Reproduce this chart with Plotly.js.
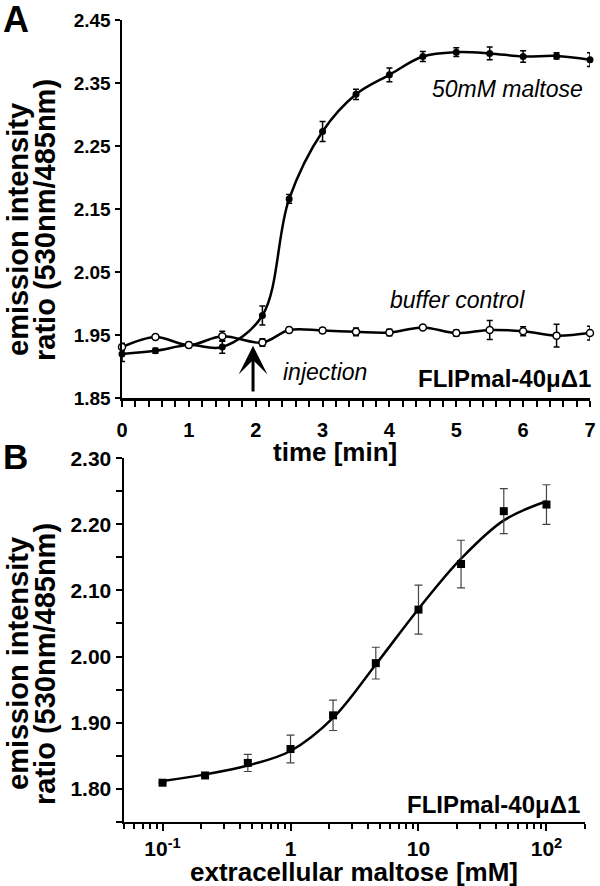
<!DOCTYPE html>
<html>
<head>
<meta charset="utf-8">
<script src="https://cdn.plot.ly/plotly-3.0.1.min.js"></script>
<style>html,body{margin:0;padding:0;background:#fff;}#chart{width:600px;height:886px;}</style>
</head>
<body>
<div id="chart"></div>
<script>
// Panel A data
const times = [0, 0.5, 1, 1.5, 2.1, 2.5, 3, 3.5, 4, 4.5, 5, 5.5, 6, 6.5, 7];
const maltose = [1.920, 1.925, 1.934, 1.931, 1.981, 2.166, 2.273, 2.332, 2.363, 2.392, 2.399, 2.397, 2.392, 2.393, 2.387];
const maltoseErr = [0.012, 0.004, 0.004, 0.010, 0.015, 0.007, 0.016, 0.008, 0.011, 0.008, 0.007, 0.010, 0.009, 0.005, 0.011];
const buffer = [1.931, 1.947, 1.934, 1.948, 1.938, 1.958, 1.957, 1.955, 1.954, 1.962, 1.953, 1.958, 1.956, 1.949, 1.953];
const bufferErr = [0.006, 0.003, 0.004, 0.008, 0.006, 0.004, 0.004, 0.006, 0.005, 0.003, 0.005, 0.015, 0.007, 0.018, 0.011];

// Panel B data
const conc = [0.1, 0.215, 0.464, 1, 2.15, 4.64, 10, 21.5, 46.4, 100];
const ratioB = [1.809, 1.820, 1.839, 1.860, 1.911, 1.990, 2.071, 2.140, 2.220, 2.230];
const ratioBErr = [0, 0, 0.013, 0.021, 0.023, 0.024, 0.037, 0.036, 0.034, 0.030];
const fitConc = [0.1, 0.215, 0.464, 1, 2.15, 4.64, 10, 21.5, 46.4, 100];
const fitRatio = [1.8115, 1.8216, 1.835, 1.857, 1.907, 1.988, 2.072, 2.148, 2.206, 2.235];

// Tick labels
const xTickValsB = [0.1, 1, 10, 100];
const xTickTextB = ['10<sup>-1</sup>', '1', '10', '10<sup>2</sup>'];
const xMinorValsB = [0.05,0.06,0.07,0.08,0.09,0.2,0.3,0.4,0.5,0.6,0.7,0.8,0.9,2,3,4,5,6,7,8,9,20,30,40,50,60,70,80,90,200];

const FF = 'Liberation Sans, Arial, sans-serif';
const W = 600, H = 886;
const px = v => v / W;
const py = v => 1 - v / H;

const traces = [
  {x: times, y: maltose, xaxis: 'x', yaxis: 'y', type: 'scatter', mode: 'lines+markers',
   line: {color: '#000', width: 2.5, shape: 'spline', smoothing: 1},
   marker: {symbol: 'circle', size: 7, color: '#000'},
   error_y: {type: 'data', array: maltoseErr, visible: true, color: '#000', thickness: 1.5, width: 3},
   cliponaxis: false, showlegend: false},
  {x: times, y: buffer, xaxis: 'x', yaxis: 'y', type: 'scatter', mode: 'lines+markers',
   line: {color: '#000', width: 2.5, shape: 'spline', smoothing: 1},
   marker: {symbol: 'circle', size: 7, color: '#fff', line: {color: '#000', width: 1.5}},
   error_y: {type: 'data', array: bufferErr, visible: true, color: '#000', thickness: 1.5, width: 3},
   cliponaxis: false, showlegend: false},
  {x: fitConc, y: fitRatio, xaxis: 'x2', yaxis: 'y2', type: 'scatter', mode: 'lines',
   line: {color: '#000', width: 2.5, shape: 'spline', smoothing: 1}, showlegend: false},
  {x: conc, y: ratioB, xaxis: 'x2', yaxis: 'y2', type: 'scatter', mode: 'markers',
   marker: {symbol: 'square', size: 8, color: '#000'},
   error_y: {type: 'data', array: ratioBErr, visible: true, color: '#444', thickness: 1.2, width: 4},
   cliponaxis: false, showlegend: false}
];

const axisCommon = {
  showline: true, linecolor: '#000', linewidth: 2.5, showgrid: false, zeroline: false,
  ticks: 'outside', tickcolor: '#000', tickwidth: 2
};

const layout = {
  width: W, height: H,
  margin: {l: 0, r: 0, t: 0, b: 0},
  paper_bgcolor: '#fff', plot_bgcolor: '#fff',
  showlegend: false,
  xaxis: Object.assign({}, axisCommon, {
    domain: [px(122), px(590)], anchor: 'y', range: [0, 7],
    tickmode: 'linear', tick0: 0, dtick: 1, ticklen: 6, ticklabelstandoff: 6,
    tickfont: {family: FF, size: 20, color: '#000', weight: 'bold'},
    minor: {ticks: 'outside', tick0: 0, dtick: 0.2, ticklen: 6, tickwidth: 2, tickcolor: '#000', showgrid: false}
  }),
  yaxis: Object.assign({}, axisCommon, {
    domain: [py(398), py(20)], anchor: 'x', range: [1.85, 2.45],
    tickmode: 'linear', tick0: 1.85, dtick: 0.1, ticklen: 5, tickformat: '.2f',
    tickfont: {family: FF, size: 19, color: '#000', weight: 'bold'}
  }),
  xaxis2: Object.assign({}, axisCommon, {
    domain: [px(124), px(585)], anchor: 'y2', type: 'log', range: [Math.log10(0.05), Math.log10(200)],
    tickmode: 'array', tickvals: xTickValsB, ticktext: xTickTextB, ticklen: 7,
    tickfont: {family: FF, size: 21, color: '#000', weight: 'bold'},
    minor: {ticks: 'outside', tickmode: 'array', tickvals: xMinorValsB, ticklen: 5, tickwidth: 2, tickcolor: '#000', showgrid: false}
  }),
  yaxis2: Object.assign({}, axisCommon, {
    domain: [py(821.7), py(458.3)], anchor: 'x2', range: [1.75, 2.30],
    tickmode: 'linear', tick0: 1.8, dtick: 0.1, ticklen: 6, tickformat: '.2f',
    tickfont: {family: FF, size: 21, color: '#000', weight: 'bold'},
    minor: {ticks: 'outside', tick0: 1.75, dtick: 0.05, ticklen: 6, tickwidth: 2, tickcolor: '#000', showgrid: false}
  }),
  annotations: [
    {text: 'A', xref: 'paper', yref: 'paper', x: px(15.5), y: py(19.5), xanchor: 'center', yanchor: 'middle', showarrow: false,
     font: {family: FF, size: 36, color: '#000', weight: 'bold'}},
    {text: 'B', xref: 'paper', yref: 'paper', x: px(15), y: py(456), xanchor: 'center', yanchor: 'middle', showarrow: false,
     font: {family: FF, size: 35, color: '#000', weight: 'bold'}},
    // y titles panel A
    {text: 'emission intensity', xref: 'paper', yref: 'paper', x: px(18), y: py(230), textangle: -90, xanchor: 'center', yanchor: 'middle', showarrow: false,
     font: {family: FF, size: 29, color: '#000', weight: 'bold'}},
    {text: 'ratio (530nm/485nm)', xref: 'paper', yref: 'paper', x: px(45), y: py(220), textangle: -90, xanchor: 'center', yanchor: 'middle', showarrow: false,
     font: {family: FF, size: 29, color: '#000', weight: 'bold'}},
    // y titles panel B
    {text: 'emission intensity', xref: 'paper', yref: 'paper', x: px(18), y: py(664), textangle: -90, xanchor: 'center', yanchor: 'middle', showarrow: false,
     font: {family: FF, size: 29, color: '#000', weight: 'bold'}},
    {text: 'ratio (530nm/485nm)', xref: 'paper', yref: 'paper', x: px(45), y: py(664), textangle: -90, xanchor: 'center', yanchor: 'middle', showarrow: false,
     font: {family: FF, size: 29, color: '#000', weight: 'bold'}},
    // x titles
    {text: 'time [min]', xref: 'paper', yref: 'paper', x: px(335), y: py(452), xanchor: 'center', yanchor: 'middle', showarrow: false,
     font: {family: FF, size: 26, color: '#000', weight: 'bold'}},
    {text: 'extracellular maltose [mM]', xref: 'paper', yref: 'paper', x: px(354), y: py(872), xanchor: 'center', yanchor: 'middle', showarrow: false,
     font: {family: FF, size: 26, color: '#000', weight: 'bold'}},
    // in-plot labels
    {text: '50mM maltose', xref: 'paper', yref: 'paper', x: px(507.5), y: py(89), xanchor: 'center', yanchor: 'middle', showarrow: false,
     font: {family: FF, size: 23, color: '#000', style: 'italic'}},
    {text: 'buffer control', xref: 'paper', yref: 'paper', x: px(457), y: py(300), xanchor: 'center', yanchor: 'middle', showarrow: false,
     font: {family: FF, size: 23, color: '#000', style: 'italic'}},
    {text: 'injection', xref: 'paper', yref: 'paper', x: px(325), y: py(372), xanchor: 'center', yanchor: 'middle', showarrow: false,
     font: {family: FF, size: 23, color: '#000', style: 'italic'}},
    {text: 'FLIPmal-40μΔ1', xref: 'paper', yref: 'paper', x: px(593), y: py(379), xanchor: 'right', yanchor: 'middle', showarrow: false,
     font: {family: FF, size: 24, color: '#000', weight: 'bold'}},
    {text: 'FLIPmal-40μΔ1', xref: 'paper', yref: 'paper', x: px(582), y: py(804), xanchor: 'right', yanchor: 'middle', showarrow: false,
     font: {family: FF, size: 24, color: '#000', weight: 'bold'}},
    // injection arrow
    {text: '', xref: 'x', yref: 'y', x: 1.96, y: 1.933, axref: 'x', ayref: 'y', ax: 1.96, ay: 1.858,
     showarrow: true, arrowhead: 3, arrowsize: 1.6, arrowwidth: 3, arrowcolor: '#000', standoff: 0, startstandoff: 0}
  ]
};

Plotly.newPlot('chart', traces, layout, {staticPlot: true, displayModeBar: false});
</script>
</body>
</html>
